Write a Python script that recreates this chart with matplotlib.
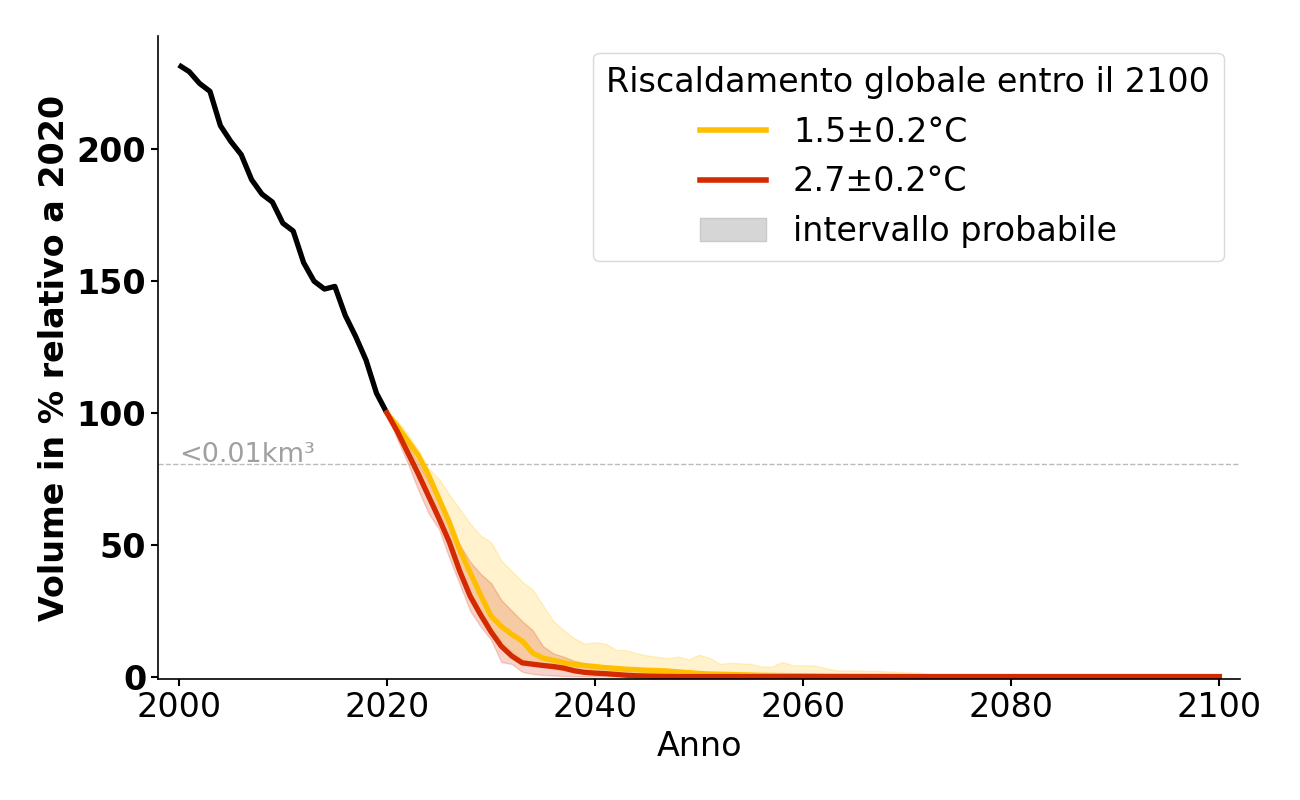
import numpy as np
import matplotlib
matplotlib.use("Agg")
import matplotlib.pyplot as plt
from matplotlib.lines import Line2D
from matplotlib.patches import Patch

# ---------------- data ----------------
hist_years = list(range(2000, 2021))
hist_vals = [232, 229.5, 225, 222, 209, 203, 198, 188.5, 183, 180, 172, 169,
             157, 150, 147, 148, 137, 129, 120, 107.5, 100]

proj_years = list(range(2020, 2101))

s15_mid = [100, 95, 89.5, 84, 76.5, 67.5, 58.5, 48, 39.5, 31,
           23, 19, 16, 13.5, 9, 7, 6.2, 5.3, 4.6, 4.2,
           3.8, 3.4, 3.1, 2.8, 2.6, 2.4, 2.3, 2.1, 1.8, 1.5,
           1.2, 1.0, 0.9, 0.8, 0.7, 0.6, 0.5, 0.45, 0.4, 0.35,
           0.3, 0.25, 0.2, 0.15, 0.12, 0.1, 0.08, 0.06, 0.05, 0.03,
           0.02, 0, 0, 0, 0, 0, 0, 0, 0, 0,
           0, 0, 0, 0, 0, 0, 0, 0, 0, 0,
           0, 0, 0, 0, 0, 0, 0, 0, 0, 0, 0]
s15_hi = [100, 97, 92, 86, 79, 75, 69, 63.5, 58, 53.5,
          51, 44, 40, 36, 33, 27, 21, 17.5, 14.5, 12.5,
          13, 12.5, 10.2, 10, 8.8, 8, 7.5, 7, 7.6, 6.5,
          8.3, 7.1, 4.8, 5.2, 5.0, 4.8, 3.8, 3.8, 5.5, 4.3,
          4.3, 4.2, 3.4, 2.4, 2.3, 2.3, 2.2, 2.2, 2.0, 1.8,
          1.6, 1.5, 1.0, 0.4, 0.2, 0.1, 0, 0, 0, 0,
          0, 0, 0, 0, 0, 0, 0, 0, 0, 0,
          0, 0, 0, 0, 0, 0, 0, 0, 0, 0, 0]
s15_lo = [100, 92, 84, 76, 68, 60, 51, 41, 32, 25,
          19, 13.5, 9.5, 6.5, 4.8, 3.8, 3.0, 2.4, 1.8, 1.4,
          1.1, 0.9, 0.7, 0.5, 0.4, 0.3, 0.2, 0.1, 0.05, 0,
          0, 0, 0, 0, 0, 0, 0, 0, 0, 0,
          0, 0, 0, 0, 0, 0, 0, 0, 0, 0,
          0, 0, 0, 0, 0, 0, 0, 0, 0, 0,
          0, 0, 0, 0, 0, 0, 0, 0, 0, 0,
          0, 0, 0, 0, 0, 0, 0, 0, 0, 0, 0]

s27_mid = [100, 93, 85, 77, 68.5, 60, 51, 40, 30.5, 23.5,
           17, 11.5, 7.8, 5.2, 4.7, 4.2, 3.8, 3.2, 2.2, 1.6,
           1.3, 1.1, 0.8, 0.5, 0.3, 0.2, 0.1, 0.05, 0, 0,
           0, 0, 0, 0, 0, 0, 0, 0, 0, 0,
           0, 0, 0, 0, 0, 0, 0, 0, 0, 0,
           0, 0, 0, 0, 0, 0, 0, 0, 0, 0,
           0, 0, 0, 0, 0, 0, 0, 0, 0, 0,
           0, 0, 0, 0, 0, 0, 0, 0, 0, 0, 0]
s27_hi = [100, 95, 88, 81, 74, 66, 58, 50, 43.5, 39,
          35.5, 29, 25, 21, 17.6, 11.5, 8.8, 7.5, 6, 5,
          4.2, 3.6, 3.0, 2.6, 2.2, 1.8, 1.5, 1.2, 1.0, 0.8,
          0.6, 0.5, 0.4, 0.3, 0.2, 0.1, 0, 0, 0, 0,
          0, 0, 0, 0, 0, 0, 0, 0, 0, 0,
          0, 0, 0, 0, 0, 0, 0, 0, 0, 0,
          0, 0, 0, 0, 0, 0, 0, 0, 0, 0,
          0, 0, 0, 0, 0, 0, 0, 0, 0, 0, 0]
s27_lo = [100, 90, 81, 71, 62, 56, 45, 35, 25, 19,
          14, 5.5, 4.8, 1.8, 1.0, 0.6, 0.4, 0.2, 0.1, 0,
          0, 0, 0, 0, 0, 0, 0, 0, 0, 0,
          0, 0, 0, 0, 0, 0, 0, 0, 0, 0,
          0, 0, 0, 0, 0, 0, 0, 0, 0, 0,
          0, 0, 0, 0, 0, 0, 0, 0, 0, 0,
          0, 0, 0, 0, 0, 0, 0, 0, 0, 0,
          0, 0, 0, 0, 0, 0, 0, 0, 0, 0, 0]

threshold = 80.8
threshold_label = "<0.01km³"
legend_title = "Riscaldamento globale entro il 2100"
label_15 = "1.5±0.2°C"
label_27 = "2.7±0.2°C"
label_band = "intervallo probabile"

# ---------------- plot ----------------
YELLOW = "#FFBF00"
RED = "#D42A00"

plt.rcParams['font.family'] = ['DejaVu Sans']
fig = plt.figure(figsize=(13, 8), dpi=100)
ax = fig.add_axes([0.1215, 0.151, 0.8325, 0.804])

ax.fill_between(proj_years, s15_lo, s15_hi, color=YELLOW, alpha=0.2, lw=1)
ax.fill_between(proj_years, s27_lo, s27_hi, color=RED, alpha=0.2, lw=1)

ax.axhline(threshold, ls='--', color='#bbbbbb', lw=1)
ax.text(2000, threshold + 0.6, threshold_label, color='#a0a0a0', fontsize=19.5,
        ha='left', va='baseline')

ax.plot(hist_years, hist_vals, color='black', lw=3.8, solid_capstyle='butt')
ax.plot(proj_years, s15_mid, color=YELLOW, lw=3.8)
ax.plot(proj_years, s27_mid, color=RED, lw=3.8)

ax.set_xlim(1998, 2102)
ax.set_ylim(-1, 243)
ax.set_xticks([2000, 2020, 2040, 2060, 2080, 2100])
ax.set_yticks([0, 50, 100, 150, 200])

ax.tick_params(axis='x', labelsize=24, length=5, width=1.5)
ax.tick_params(axis='y', labelsize=24, length=5, width=1.5)
for lab in ax.get_yticklabels():
    lab.set_fontweight('bold')

ax.set_xlabel("Anno", fontsize=24)
ax.set_ylabel("Volume in % relativo a 2020", fontsize=24, fontweight='bold')

for s in ['top', 'right']:
    ax.spines[s].set_visible(False)
for s in ['left', 'bottom']:
    ax.spines[s].set_linewidth(1.2)

handles = [Line2D([0], [0], color=YELLOW, lw=4),
           Line2D([0], [0], color=RED, lw=4),
           Patch(facecolor='#d6d6d6', edgecolor='#c8c8c8')]
leg = ax.legend(handles, [label_15, label_27, label_band], title=legend_title,
                loc='upper right', fontsize=24, title_fontsize=24,
                handlelength=2.0, frameon=True)
leg.get_frame().set_edgecolor('#d0d0d0')

fig.savefig("out.png", dpi=100)
